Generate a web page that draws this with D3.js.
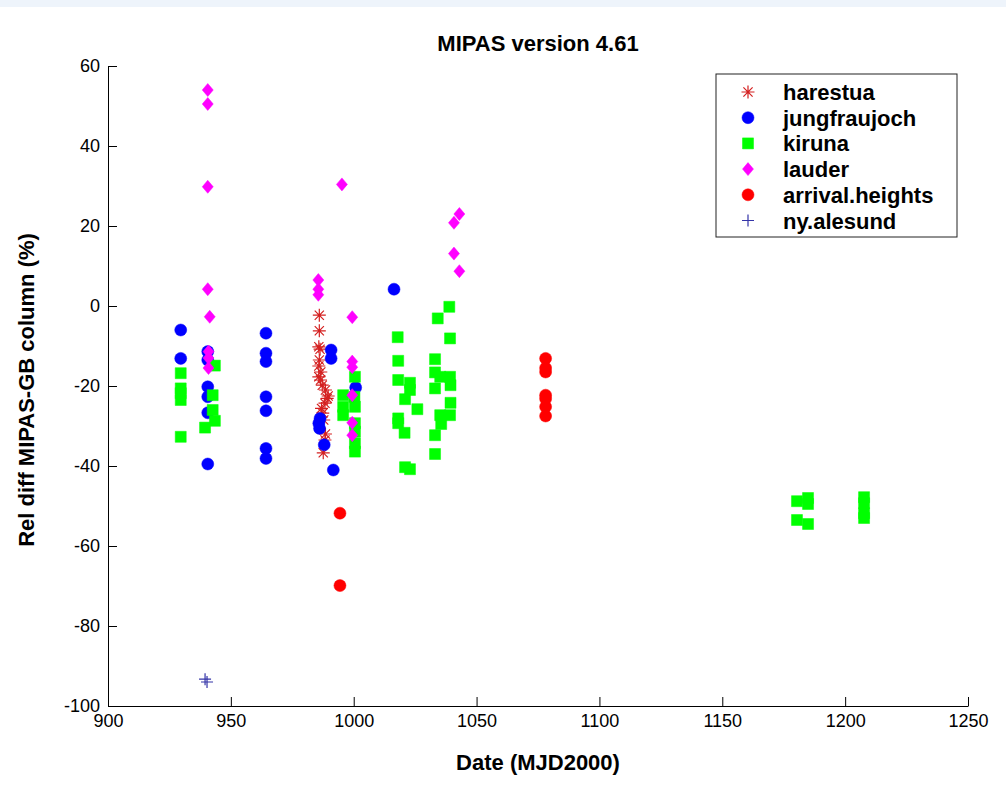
<!DOCTYPE html>
<html>
<head>
<meta charset="utf-8">
<script src="https://cdn.jsdelivr.net/npm/d3@7"></script>
<style>
  body { margin: 0; background: #fff; }
  text { font-family: "Liberation Sans", Arial, sans-serif; }
</style>
</head>
<body>
<div id="chart"></div>
<script>
let w = 1006;
let h = 791;
let margin = { top: 66, right: 38, bottom: 85, left: 108 };

// station data: [date (MJD2000), rel diff (%)]
let harestua = [
  [986.0, -2.3], [986.0, -6.2], [985.8, -10.2], [986.3, -10.8], [986.0, -13.5],
  [985.8, -15.0], [986.6, -16.5], [985.8, -17.7], [986.5, -18.5], [987.2, -19.8],
  [988.5, -21.0], [989.6, -22.5], [989.2, -23.1], [988.3, -24.3], [986.9, -25.6],
  [987.4, -26.8], [987.8, -28.5], [988.5, -32.0], [988.3, -33.5], [987.6, -36.7]
];
let jungfraujoch = [
  [929.6, -6.0], [929.6, -13.1], [940.6, -11.4], [940.6, -13.5], [940.6, -20.2],
  [940.6, -22.7], [940.6, -26.7], [940.6, -39.5], [964.3, -6.8], [964.3, -11.8],
  [964.3, -13.9], [964.3, -22.7], [964.3, -26.2], [964.3, -35.6], [964.3, -38.1],
  [990.8, -11.0], [990.8, -13.1], [986.3, -28.1], [985.8, -29.3], [986.1, -30.6],
  [988.0, -34.7], [991.7, -41.0], [1000.8, -20.4], [1016.4, 4.2]
];
let kiruna = [
  [929.6, -16.8], [929.6, -20.6], [929.6, -21.8], [929.6, -23.5], [929.6, -32.7],
  [943.5, -14.9], [942.6, -22.3], [942.6, -26.0], [943.5, -28.7], [939.5, -30.4],
  [995.7, -22.3], [995.7, -25.2], [995.7, -27.3],
  [1000.5, -17.7], [1000.3, -22.7], [1000.5, -25.2], [1000.5, -29.3], [1000.5, -31.4],
  [1000.5, -34.3], [1000.5, -36.4],
  [1017.9, -7.8], [1018.1, -13.7], [1018.1, -18.5], [1018.1, -28.1], [1018.1, -29.3],
  [1020.9, -23.3], [1022.9, -19.2], [1022.9, -21.0], [1020.7, -31.7], [1020.9, -40.3],
  [1022.9, -40.8], [1025.9, -25.8],
  [1033.1, -13.3], [1033.1, -16.6], [1033.1, -20.6], [1033.1, -32.3], [1033.1, -37.0],
  [1034.2, -3.1], [1035.2, -17.7], [1035.2, -27.3], [1035.6, -29.5],
  [1038.9, -0.2], [1039.2, -8.1], [1039.2, -17.7], [1039.4, -19.8], [1039.4, -24.2],
  [1039.2, -27.3],
  [1180.4, -48.8], [1180.4, -53.5], [1184.9, -48.0], [1184.9, -49.5], [1184.9, -54.5],
  [1207.7, -47.8], [1207.7, -49.3], [1207.7, -51.8], [1207.7, -53.0]
];
let lauder = [
  [940.6, 54.0], [940.6, 50.5], [940.6, 29.8], [940.6, 4.2], [941.4, -2.7],
  [940.9, -11.4], [940.9, -13.0], [940.9, -15.5],
  [985.6, 6.5], [985.6, 4.2], [985.6, 2.8], [995.2, 30.4],
  [999.4, -2.8], [999.4, -13.9], [999.4, -15.3], [999.4, -22.3], [999.4, -29.2], [999.4, -32.3],
  [1043.0, 23.0], [1040.8, 20.8], [1040.8, 13.1], [1043.0, 8.7]
];
let arrivalHeights = [
  [994.4, -51.8], [994.4, -69.9],
  [1078.1, -13.1], [1078.1, -15.5], [1078.1, -16.5], [1078.1, -22.3],
  [1078.1, -23.2], [1078.1, -25.2], [1078.1, -27.5]
];
let nyAlesund = [[939.5, -93.3], [940.3, -94.0]];

let xTicks = [900, 950, 1000, 1050, 1100, 1150, 1200, 1250];
let yTicks = [-100, -80, -60, -40, -20, 0, 20, 40, 60];

let series = [
  { name: "harestua", data: harestua, marker: "asterisk", color: "#d42020" },
  { name: "jungfraujoch", data: jungfraujoch, marker: "circle", color: "#0000ff" },
  { name: "kiruna", data: kiruna, marker: "square", color: "#00ff00" },
  { name: "lauder", data: lauder, marker: "diamond", color: "#ff00ff" },
  { name: "arrival.heights", data: arrivalHeights, marker: "circle", color: "#ff0000" },
  { name: "ny.alesund", data: nyAlesund, marker: "plus", color: "#3434a8" }
];

// marker path helpers
function markerPath(type) {
  if (type === "circle") return "M-6,0A6,6 0 1,0 6,0A6,6 0 1,0 -6,0Z";
  if (type === "square") return "M-5.5,-5.5H5.5V5.5H-5.5Z";
  if (type === "diamond") return "M0,-6.5L5.5,0L0,6.5L-5.5,0Z";
  if (type === "plus") return "M-6,0H6M0,-6V6";
  // asterisk
  return "M-6.5,0H6.5M0,-6.5V6.5M-4.6,-4.6L4.6,4.6M-4.6,4.6L4.6,-4.6";
}
let filled = (type) => type === "circle" || type === "square" || type === "diamond";

let svg = d3.select("#chart")
            .append("svg")
            .attr("width", w)
            .attr("height", h);

svg.append("rect")
   .attr("x", 0).attr("y", 0)
   .attr("width", w).attr("height", 7)
   .attr("fill", "#eef4fb");

let xScale = d3.scaleLinear([900, 1250], [margin.left, w - margin.right]);
let yScale = d3.scaleLinear([-100, 60], [h - margin.bottom, margin.top]);

let xAxis = d3.axisBottom(xScale)
              .tickValues(xTicks)
              .tickFormat(d3.format("d"))
              .tickSizeInner(-9)
              .tickSizeOuter(0)
              .tickPadding(8);

let yAxis = d3.axisLeft(yScale)
              .tickValues(yTicks)
              .tickFormat((d) => String(d))
              .tickSizeInner(-9)
              .tickSizeOuter(0)
              .tickPadding(8);

let gx = svg.append("g")
            .attr("transform", `translate(0,${h - margin.bottom})`)
            .call(xAxis);

let gy = svg.append("g")
            .attr("transform", `translate(${margin.left},0)`)
            .call(yAxis);

[gx, gy].forEach((g) => {
  g.selectAll("text")
   .style("font-family", '"Liberation Sans", Arial, sans-serif')
   .style("font-size", "18px")
   .attr("fill", "#000");
  g.selectAll("line, path").attr("stroke", "#000");
});

// points
series.forEach((s) => {
  svg.append("g")
     .selectAll("path")
     .data(s.data)
     .enter()
     .append("path")
     .attr("transform", (d) => `translate(${xScale(d[0])},${yScale(d[1])})`)
     .attr("d", markerPath(s.marker))
     .attr("fill", filled(s.marker) ? s.color : "none")
     .attr("stroke", s.color)
     .attr("stroke-width", filled(s.marker) ? 0.5 : 1.2);
});

// title and labels
svg.append("text")
   .attr("x", 538).attr("y", 51)
   .attr("text-anchor", "middle")
   .style("font-size", "22px")
   .style("font-weight", "bold")
   .text("MIPAS version 4.61");

svg.append("text")
   .attr("x", 538).attr("y", 770)
   .attr("text-anchor", "middle")
   .style("font-size", "22px")
   .style("font-weight", "bold")
   .text("Date (MJD2000)");

svg.append("text")
   .attr("transform", "translate(34,390) rotate(-90)")
   .attr("text-anchor", "middle")
   .style("font-size", "22px")
   .style("font-weight", "bold")
   .text("Rel diff MIPAS-GB column (%)");

// legend
let legend = svg.append("g");
legend.append("rect")
      .attr("x", 716).attr("y", 74)
      .attr("width", 241).attr("height", 163)
      .attr("fill", "#fff")
      .attr("stroke", "#222");

let rows = legend.selectAll("g.row")
                 .data(series)
                 .enter()
                 .append("g")
                 .attr("class", "row")
                 .attr("transform", (d, i) => `translate(0,${92 + i * 25.7})`);

rows.append("path")
    .attr("transform", "translate(748,0)")
    .attr("d", (d) => markerPath(d.marker))
    .attr("fill", (d) => filled(d.marker) ? d.color : "none")
    .attr("stroke", (d) => d.color)
    .attr("stroke-width", (d) => filled(d.marker) ? 0.5 : 1.2);

rows.append("text")
    .attr("x", 783).attr("y", 8)
    .style("font-size", "22px")
    .style("font-weight", "bold")
    .text((d) => d.name);
</script>
</body>
</html>
